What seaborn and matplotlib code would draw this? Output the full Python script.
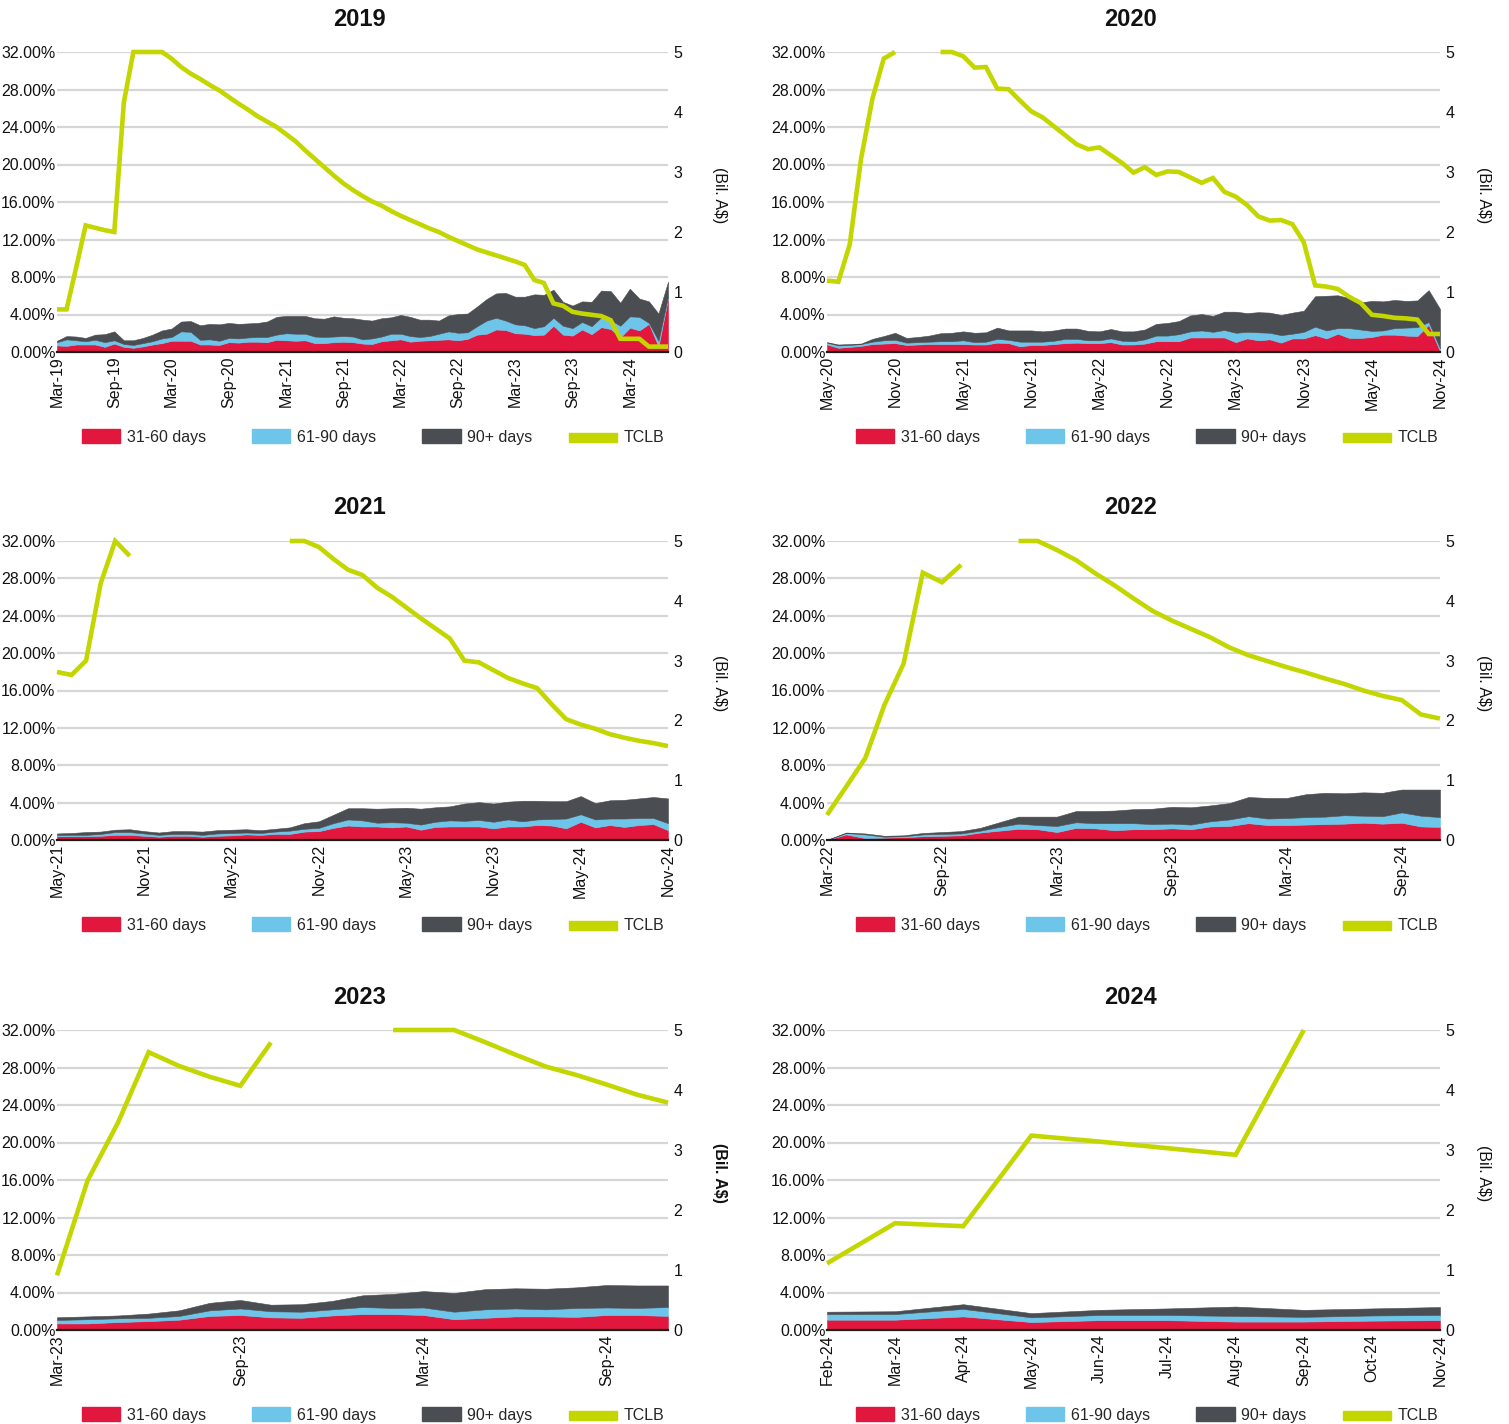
import numpy as np
import pandas as pd
import matplotlib
matplotlib.use("Agg")
import matplotlib.pyplot as plt
import seaborn as sns
from matplotlib.patches import Patch, Rectangle
from matplotlib.legend_handler import HandlerPatch

sns.set_theme(style="white")
plt.rcParams["font.family"] = ["Liberation Sans", "DejaVu Sans"]

nan = np.nan

# ---------------- data ----------------
titles = ["2019", "2020", "2021", "2022", "2023", "2024"]
start_months = ["2019-03", "2020-05", "2021-05", "2022-03", "2023-03", "2024-02"]
end_months = ["2024-07", "2024-11", "2024-11", "2024-11", "2024-11", "2024-11"]
tick_steps = [6, 6, 6, 6, 6, 1]

d31_2019 = [0.7, 0.65, 0.8, 0.8, 0.8, 0.55, 0.9, 0.55, 0.45, 0.6, 0.8, 0.95, 1.2, 1.2, 1.2, 0.8, 0.8, 0.75,
            1.05, 1.0, 1.1, 1.1, 1.05, 1.3, 1.25, 1.2, 1.25, 0.95, 0.95, 1.05, 1.1, 1.05, 0.9, 0.85, 1.15,
            1.25, 1.35, 1.1, 1.2, 1.25, 1.3, 1.35, 1.25, 1.4, 1.85, 1.95, 2.4, 2.35, 2.0, 1.95, 1.8, 1.85,
            2.8, 1.85, 1.75, 2.4, 1.9, 2.65, 2.45, 1.55, 2.6, 2.3, 3.0, 0.6, 5.7]
d61_2019 = [0.35, 0.7, 0.45, 0.35, 0.5, 0.5, 0.35, 0.3, 0.3, 0.35, 0.35, 0.5, 0.4, 1.0, 0.95, 0.5, 0.55, 0.45,
            0.45, 0.45, 0.45, 0.5, 0.55, 0.55, 0.75, 0.75, 0.7, 0.7, 0.65, 0.6, 0.6, 0.6, 0.45, 0.6, 0.5,
            0.7, 0.6, 0.6, 0.4, 0.45, 0.65, 0.85, 0.8, 0.7, 0.9, 1.4, 1.25, 1.0, 0.95, 0.9, 0.75, 0.9,
            0.85, 0.95, 0.8, 0.8, 0.85, 1.05, 0.95, 1.25, 1.2, 1.45, 0.1, 0.6, 0.2]
d90_2019 = [0.15, 0.35, 0.4, 0.35, 0.55, 0.85, 0.95, 0.4, 0.5, 0.55, 0.7, 0.85, 0.9, 1.05, 1.15, 1.55, 1.65, 1.75,
            1.6, 1.55, 1.5, 1.5, 1.65, 1.9, 1.85, 1.9, 1.9, 1.95, 1.95, 2.15, 1.95, 1.95, 2.1, 1.9, 1.95,
            1.75, 2.0, 2.05, 1.85, 1.75, 1.4, 1.7, 2.0, 2.0, 2.1, 2.3, 2.6, 2.95, 2.95, 3.05, 3.6, 3.35,
            3.0, 2.55, 2.4, 2.2, 2.6, 2.85, 3.1, 2.45, 2.95, 1.95, 2.3, 2.9, 1.6]
tclb_2019 = [0.71, 0.71, 1.4, 2.11, 2.07, 2.03, 2.0, 4.16, 5.0, 5.0, 5.0, 5.0, 4.89, 4.75, 4.64, 4.55, 4.45,
             4.36, 4.25, 4.14, 4.04, 3.93, 3.84, 3.75, 3.63, 3.51, 3.36, 3.22, 3.08, 2.94, 2.81, 2.70, 2.60,
             2.51, 2.44, 2.35, 2.27, 2.20, 2.13, 2.06, 2.0, 1.92, 1.85, 1.78, 1.71, 1.66, 1.61, 1.56, 1.51,
             1.45, 1.20, 1.15, 0.81, 0.77, 0.67, 0.64, 0.62, 0.60, 0.53, 0.22, 0.22, 0.22, 0.09, 0.09, 0.09]

d31_2020 = [0.8, 0.45, 0.55, 0.65, 0.85, 0.9, 0.95, 0.75, 0.8, 0.85, 0.85, 0.85, 0.85, 0.8, 0.8, 1.0, 0.95,
            0.6, 0.75, 0.75, 0.85, 0.95, 1.0, 0.95, 0.95, 1.05, 0.8, 0.8, 0.9, 1.15, 1.15, 1.15, 1.55, 1.55,
            1.55, 1.55, 1.05, 1.45, 1.25, 1.35, 1.0, 1.45, 1.45, 1.8, 1.45, 1.95, 1.5, 1.5, 1.6, 1.85, 1.85,
            1.75, 1.7, 2.9, 0.1]
d61_2020 = [0.2, 0.25, 0.2, 0.2, 0.25, 0.35, 0.35, 0.25, 0.25, 0.25, 0.3, 0.3, 0.4, 0.25, 0.3, 0.4, 0.35,
            0.5, 0.35, 0.35, 0.35, 0.45, 0.4, 0.3, 0.3, 0.4, 0.4, 0.35, 0.45, 0.6, 0.6, 0.75, 0.65, 0.75,
            0.6, 0.8, 1.0, 0.7, 0.85, 0.7, 0.8, 0.5, 0.7, 0.9, 0.85, 0.6, 1.05, 0.9, 0.65, 0.45, 0.7,
            0.85, 0.95, 0.3, 0.3]
d90_2020 = [0.05, 0.1, 0.1, 0.05, 0.3, 0.45, 0.75, 0.5, 0.55, 0.65, 0.85, 0.9, 0.95, 1.0, 1.0, 1.2, 1.0,
            1.2, 1.2, 1.1, 1.1, 1.1, 1.1, 1.0, 0.95, 1.0, 1.0, 1.05, 1.05, 1.25, 1.35, 1.4, 1.7, 1.75,
            1.7, 1.95, 2.25, 2.0, 2.15, 2.15, 2.15, 2.25, 2.25, 3.25, 3.7, 3.5, 3.2, 2.9, 3.2, 3.1, 3.0,
            2.85, 2.85, 3.4, 4.2]
tclb_2020 = [1.19, 1.17, 1.79, 3.22, 4.22, 4.89, 5.0, nan, nan, nan, 5.0, 5.0, 4.93, 4.74, 4.75, 4.39, 4.38,
             4.19, 4.01, 3.91, 3.76, 3.61, 3.46, 3.38, 3.41, 3.28, 3.15, 2.99, 3.08, 2.95, 3.01, 3.0, 2.91,
             2.82, 2.90, 2.67, 2.59, 2.45, 2.26, 2.19, 2.20, 2.13, 1.83, 1.11, 1.09, 1.05, 0.92, 0.82, 0.62,
             0.60, 0.57, 0.56, 0.54, 0.30, 0.30]

d31_2021 = [0.4, 0.4, 0.4, 0.45, 0.55, 0.55, 0.45, 0.35, 0.45, 0.45, 0.35, 0.45, 0.5, 0.6, 0.55, 0.65, 0.65,
            0.9, 0.95, 1.3, 1.55, 1.45, 1.45, 1.35, 1.45, 1.1, 1.4, 1.45, 1.45, 1.45, 1.25, 1.45, 1.45, 1.6,
            1.55, 1.25, 1.95, 1.35, 1.6, 1.4, 1.6, 1.7, 1.05]
d61_2021 = [0.15, 0.15, 0.15, 0.2, 0.3, 0.3, 0.25, 0.2, 0.2, 0.2, 0.2, 0.25, 0.25, 0.2, 0.2, 0.25, 0.35,
            0.3, 0.35, 0.5, 0.65, 0.65, 0.4, 0.55, 0.4, 0.55, 0.55, 0.65, 0.6, 0.7, 0.7, 0.75, 0.55, 0.6,
            0.7, 1.05, 0.8, 0.85, 0.7, 0.9, 0.75, 0.65, 0.75]
d90_2021 = [0.15, 0.2, 0.3, 0.25, 0.25, 0.3, 0.25, 0.25, 0.3, 0.3, 0.35, 0.35, 0.35, 0.35, 0.3, 0.3, 0.35,
            0.6, 0.7, 0.9, 1.2, 1.3, 1.5, 1.5, 1.6, 1.7, 1.55, 1.5, 1.85, 1.9, 1.95, 1.9, 2.2, 2.0,
            1.9, 1.85, 1.95, 1.75, 1.95, 2.0, 2.1, 2.25, 2.65]
tclb_2021 = [2.81, 2.76, 3.0, 4.29, 5.0, 4.75, nan, nan, nan, nan, nan, nan, nan, nan, nan, nan, 5.0, 5.0,
             4.9, 4.7, 4.52, 4.43, 4.22, 4.07, 3.89, 3.71, 3.54, 3.37, 3.0, 2.97, 2.84, 2.71, 2.62, 2.54,
             2.27, 2.02, 1.93, 1.86, 1.77, 1.71, 1.66, 1.62, 1.57]

d31_2022 = [0.0, 0.6, 0.2, 0.25, 0.3, 0.4, 0.45, 0.5, 0.8, 1.0, 1.2, 1.15, 0.85, 1.3, 1.25, 1.05, 1.15,
            1.15, 1.25, 1.15, 1.45, 1.5, 1.8, 1.6, 1.6, 1.65, 1.7, 1.75, 1.85, 1.75, 1.85, 1.45, 1.4]
d61_2022 = [0.0, 0.15, 0.4, 0.1, 0.1, 0.2, 0.2, 0.2, 0.2, 0.4, 0.55, 0.45, 0.65, 0.6, 0.55, 0.75, 0.65,
            0.55, 0.5, 0.5, 0.55, 0.7, 0.75, 0.7, 0.75, 0.8, 0.8, 0.9, 0.75, 0.8, 1.1, 1.15, 1.05]
d90_2022 = [0.0, 0.05, 0.1, 0.1, 0.1, 0.15, 0.2, 0.25, 0.3, 0.5, 0.75, 0.9, 1.0, 1.2, 1.3, 1.35, 1.5,
            1.65, 1.8, 1.85, 1.7, 1.75, 2.05, 2.2, 2.15, 2.45, 2.55, 2.35, 2.5, 2.5, 2.45, 2.8, 2.95]
tclb_2022 = [0.42, 0.89, 1.37, 2.26, 2.95, 4.47, 4.31, 4.6, nan, nan, 5.0, 5.0, 4.85, 4.68, 4.46, 4.26,
             4.04, 3.83, 3.67, 3.53, 3.39, 3.22, 3.09, 2.99, 2.89, 2.80, 2.70, 2.61, 2.50, 2.41, 2.34,
             2.10, 2.03]

d31_2023 = [0.7, 0.7, 0.85, 0.95, 1.1, 1.5, 1.6, 1.35, 1.3, 1.55, 1.7, 1.7, 1.6, 1.15, 1.3, 1.45, 1.45,
            1.4, 1.6, 1.6, 1.5]
d61_2023 = [0.37, 0.45, 0.4, 0.35, 0.4, 0.6, 0.7, 0.65, 0.65, 0.65, 0.75, 0.65, 0.8, 0.8, 0.9, 0.85, 0.75,
            0.95, 0.8, 0.75, 0.95]
d90_2023 = [0.29, 0.3, 0.3, 0.45, 0.6, 0.8, 0.9, 0.7, 0.8, 0.9, 1.25, 1.5, 1.75, 2.0, 2.15, 2.15, 2.2,
            2.2, 2.4, 2.4, 2.3]
tclb_2023 = [0.91, 2.49, 3.46, 4.63, 4.40, 4.22, 4.07, 4.79, nan, nan, nan, 5.0, 5.0, 5.0, 4.80, 4.59,
             4.39, 4.25, 4.09, 3.92, 3.79]

d31_2024 = [1.1, 1.1, 1.45, 0.85, 1.05, 1.05, 0.9, 0.9, 1.0, 1.05]
d61_2024 = [0.6, 0.6, 0.8, 0.5, 0.55, 0.55, 0.6, 0.5, 0.55, 0.55]
d90_2024 = [0.25, 0.3, 0.5, 0.45, 0.55, 0.7, 1.0, 0.75, 0.75, 0.85]
tclb_2024 = [1.11, 1.78, 1.73, 3.24, 3.14, 3.03, 2.92, 5.0, nan, nan]

series_31 = [d31_2019, d31_2020, d31_2021, d31_2022, d31_2023, d31_2024]
series_61 = [d61_2019, d61_2020, d61_2021, d61_2022, d61_2023, d61_2024]
series_90 = [d90_2019, d90_2020, d90_2021, d90_2022, d90_2023, d90_2024]
series_tclb = [tclb_2019, tclb_2020, tclb_2021, tclb_2022, tclb_2023, tclb_2024]

legend_labels = ["31-60 days", "61-90 days", "90+ days", "TCLB"]
pct_ticks = [0, 4, 8, 12, 16, 20, 24, 28, 32]
bil_ticks = [0, 1, 2, 3, 4, 5]

# ---------------- style ----------------
RED = "#E2173D"
BLUE = "#6DC6EA"
GREY = "#4A4D51"
LIME = "#C4D600"
GRIDC = "#D6D6D6"


def wide_bar(legend, orig_handle, xdescent, ydescent, width, height, fontsize):
    # legend key for the TCLB line: a wider, flatter bar
    extra = 0.26 * width
    h = 0.72 * height
    return Rectangle((-xdescent - extra, -ydescent + (height - h) / 2 - 0.12 * height),
                     width + extra, h)


W, H = 1509, 1424
fig = plt.figure(figsize=(W / 100, H / 100), dpi=100)
fig.patch.set_facecolor("white")

col_l = [57, 827]
col_r = [668, 1440]
row_t = [52, 541, 1030]
row_b = [352, 840, 1330]
bil_x = [720, 1483]

for i in range(6):
    r, c = divmod(i, 2)
    l, rr = col_l[c], col_r[c]
    t, b = row_t[r], row_b[r]
    ax = fig.add_axes([l / W, 1 - b / H, (rr - l) / W, (b - t) / H])

    months = pd.date_range(start_months[i], end_months[i], freq="MS")
    labels = months.strftime("%b-%y")
    n = len(months)
    x = np.arange(n)

    polys = ax.stackplot(x, series_31[i], series_61[i], series_90[i],
                         colors=[RED, BLUE, GREY], linewidth=0)
    for p, col in zip(polys, [RED, BLUE, GREY]):
        p.set_edgecolor(col)
        p.set_linewidth(0.4)

    ax.set_xlim(0, n - 1)
    ax.set_ylim(0, 32)
    ax.set_yticks(pct_ticks)
    ax.set_yticklabels([f"{v:.2f}%" for v in pct_ticks])
    ax.yaxis.grid(True, color=GRIDC, linewidth=1.6)
    ax.xaxis.grid(False)
    ax.set_axisbelow(True)
    for s in ["top", "left", "right"]:
        ax.spines[s].set_visible(False)
    ax.spines["bottom"].set_color("#1a1a1a")
    ax.spines["bottom"].set_linewidth(1.6)
    ax.spines["bottom"].set_zorder(5)
    step = tick_steps[i]
    ax.set_xticks(x[::step])
    ax.set_xticklabels(labels[::step], rotation=90, fontsize=11.5, color="#111111")
    ax.tick_params(axis="x", length=0, pad=3)
    ax.tick_params(axis="y", length=0, pad=1, labelsize=11.5, labelcolor="#111111")

    ax2 = ax.twinx()
    ax2.plot(x, series_tclb[i], color=LIME, linewidth=3.3, clip_on=False,
             solid_joinstyle="miter", solid_capstyle="butt", zorder=4)
    ax2.set_ylim(0, 5)
    ax2.set_yticks(bil_ticks)
    ax2.tick_params(axis="y", length=0, pad=4, labelsize=11.5, labelcolor="#111111")
    ax2.grid(False)
    for s in ["top", "left", "right", "bottom"]:
        ax2.spines[s].set_visible(False)

    cx = (l + rr) / 2 / W
    fig.text(cx - 3 / W, 1 - (t - 33) / H, titles[i], ha="center", va="center",
             fontsize=17, fontweight="bold", color="#111111")
    fig.text(bil_x[c] / W, 1 - ((t + b) / 2 - 7) / H, "(Bil. A$)", rotation=-90,
             ha="center", va="center", fontsize=11.5, color="#111111",
             fontweight="bold" if titles[i] == "2023" else "normal")

    tclb_key = Patch(facecolor=LIME, edgecolor=LIME)
    handles = [Patch(facecolor=RED, edgecolor=RED),
               Patch(facecolor=BLUE, edgecolor=BLUE),
               Patch(facecolor=GREY, edgecolor=GREY),
               tclb_key]
    leg_cx = (l + 316) / W if c == 0 else (l + 320) / W
    fig.legend(handles, legend_labels, loc="center",
               bbox_to_anchor=(leg_cx, 1 - (b + 85) / H), ncol=4, frameon=False,
               fontsize=11.5, handlelength=2.4, handleheight=0.9,
               handletextpad=0.4, columnspacing=2.9, borderpad=0,
               handler_map={tclb_key: HandlerPatch(patch_func=wide_bar)})

fig.savefig("out.png", dpi=100, facecolor="white")
